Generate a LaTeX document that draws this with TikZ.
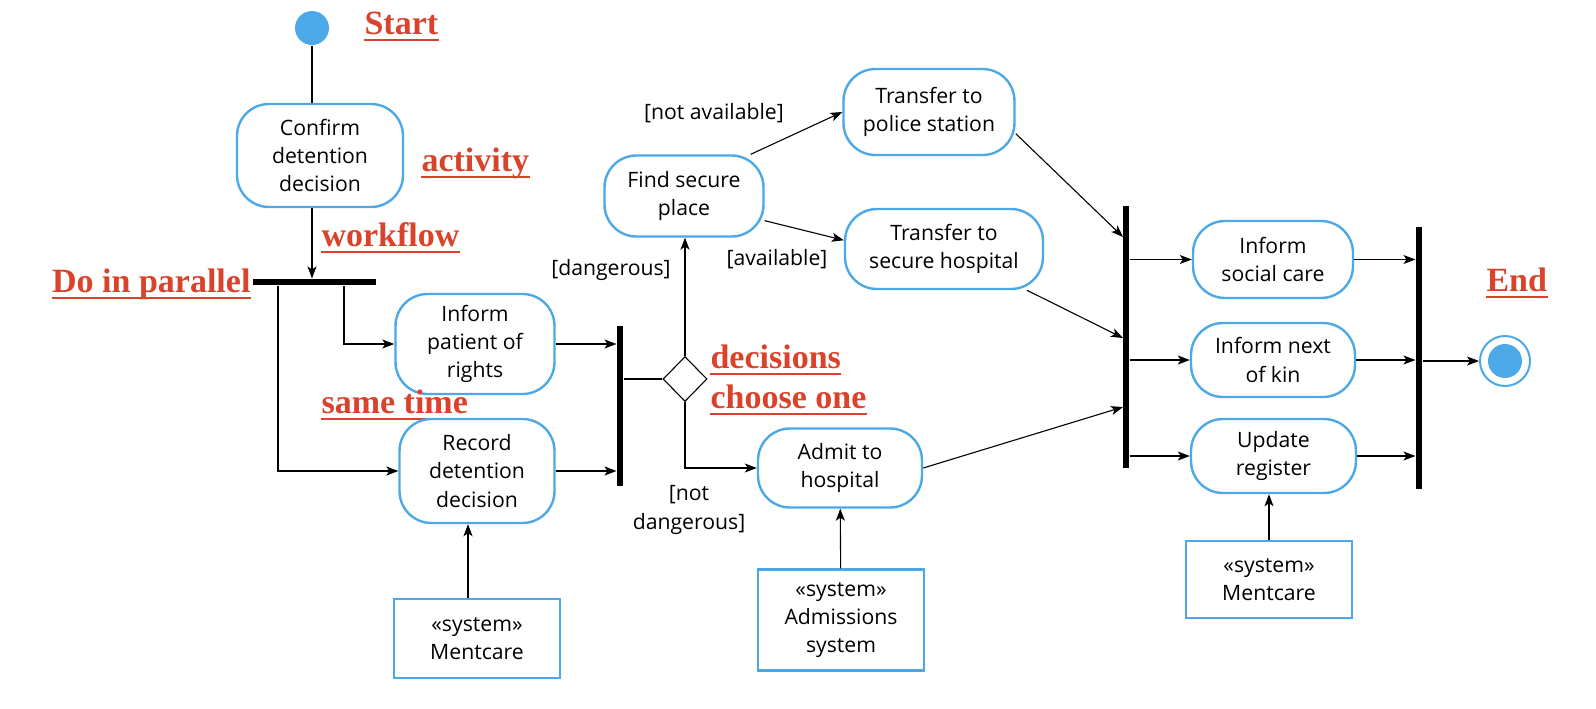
\documentclass[tikz,border=0pt]{standalone}
\usepackage{fontspec}
\setmainfont{Open Sans}
\newfontfamily\notefont{Liberation Serif}
\usetikzlibrary{arrows.meta,shapes.geometric}

\definecolor{actblue}{RGB}{76,168,230}
\definecolor{notered}{RGB}{217,67,44}

\tikzset{
  activity/.style={draw=actblue, line width=1.2pt, rounded corners=16pt, align=center, inner sep=1pt,
    font=\fontsize{10.6}{14.2}\selectfont},
  sysbox/.style={draw=actblue, line width=1.2pt, align=center, inner sep=1pt,
    font=\fontsize{10.6}{14.2}\selectfont},
  guard/.style={align=center, inner sep=0pt, font=\fontsize{10.6}{14.2}\selectfont},
  bar/.style={fill=black, inner sep=0pt},
  note/.style={text=notered, inner sep=0pt, anchor=base west,
    font=\notefont\bfseries\fontsize{17}{20}\selectfont,
    append after command={\pgfextra{\draw[notered, line width=1.4pt]
      ([yshift=-3pt]\tikzlastnode.base west) -- ([yshift=-3pt]\tikzlastnode.base east);}}},
  flow/.style={->, line width=0.55pt},
}

\begin{document}
\begin{tikzpicture}[x=0.5pt, y=-0.5pt, >={Stealth[length=6pt, width=4.5pt, inset=1.5pt]}, line width=0.55pt]
\useasboundingbox (0,0) rectangle (1596,708);

% -------- start and first activity -----------
\node[circle, fill=actblue, minimum size=17pt, inner sep=0pt] (start) at (312,28) {};
\node[note] (startnote) at (364,34) {Start};
\node[activity, minimum width=83pt, minimum height=51.5pt] (confirm) at (320,155.5) {Confirm\\detention\\decision};
\node[note] (activitynote) at (421,171) {activity};
\node[note] (workflownote) at (321,246) {workflow};
\node[bar, minimum width=61.5pt, minimum height=3pt] (fork) at (314.5,282) {};
\node[note, anchor=base east] (parallelnote) at (251,292) {Do in parallel};

% -------- parallel branch -----------
\node[activity, minimum width=79.5pt, minimum height=50pt] (inform) at (475,344) {Inform\\patient of\\rights};
\node[note] (timenote) at (321,413) {same time};
\node[activity, minimum width=77.5pt, minimum height=52pt] (record) at (477,471) {Record\\detention\\decision};
\node[sysbox, minimum width=83pt, minimum height=39.5pt] (mentcare1) at (477,638.5) {«system»\\Mentcare};
\node[bar, minimum width=3pt, minimum height=80pt] (join1) at (620,406) {};

% -------- decision -----------
\node[diamond, draw, minimum width=22pt, minimum height=22.5pt, inner sep=0pt] (choice) at (685,379) {};
\node[note] (decisionnote) at (710,368) {decisions};
\node[note] (choosenote) at (710,408) {choose one};
\node[activity, minimum width=79.5pt, minimum height=40.5pt] (find) at (684,196) {Find secure\\place};
\node[guard] (dangerous) at (611,270) {[dangerous]};
\node[activity, minimum width=85.5pt, minimum height=43pt] (police) at (929,112) {Transfer to\\police station};
\node[activity, minimum width=99pt, minimum height=40pt] (secure) at (944,249) {Transfer to\\secure hospital};
\node[guard] (notavailable) at (714,113) {[not available]};
\node[guard] (available) at (777,259) {[available]};
\node[activity, minimum width=82pt, minimum height=39.5pt] (admit) at (840,468) {Admit to\\hospital};
\node[guard] (notdangerous) at (689,510) {[not\\dangerous]};
\node[sysbox, minimum width=83pt, minimum height=50.5pt] (admissions) at (841,620) {«system»\\Admissions\\system};

% -------- final steps -----------
\node[bar, minimum width=3pt, minimum height=131pt] (join2) at (1126,337) {};
\node[activity, minimum width=80pt, minimum height=38.5pt] (social) at (1273,259.5) {Inform\\social care};
\node[activity, minimum width=82pt, minimum height=37pt] (kin) at (1273,360) {Inform next\\of kin};
\node[activity, minimum width=82.5pt, minimum height=37pt] (update) at (1273.5,456) {Update\\register};
\node[sysbox, minimum width=83pt, minimum height=38.5pt] (mentcare2) at (1269,579.5) {«system»\\Mentcare};
\node[bar, minimum width=3pt, minimum height=131pt] (join3) at (1419,358) {};
\node[note] (endnote) at (1486,291) {End};
\node[circle, draw=actblue, line width=1pt, minimum size=25pt, inner sep=0pt] (stop) at (1505,361) {};
\node[circle, fill=actblue, minimum size=17pt, inner sep=0pt] (stopdot) at (stop) {};

\coordinate (forka) at (278,282);
\coordinate (forkb) at (344,282);
\coordinate (j2a) at (1123,237);
\coordinate (j2b) at (1123,338);
\coordinate (j2c) at (1123,407);

% -------- connectors -----------
\draw (start.south) -- (start |- confirm.north);
\draw[flow] (start |- confirm.south) -- (start |- fork.north);
\draw[flow] (forkb |- fork.south) |- (inform.west);
\draw[flow] (forka |- fork.south) |- (record.west);
\draw[flow] (inform.east) -- (inform.east -| join1.west);
\draw[flow] (record.east) -- (record.east -| join1.west);
\draw[flow] ([xshift=-4.5pt]mentcare1.north) -- ([xshift=-4.5pt]record.south);
\draw (join1.east |- choice) -- (choice.west);
\draw[flow] (choice.north) -- (choice.north |- find.south);
\draw[flow] (choice.south) |- (admit.west);
\draw[flow] (admissions) -- (admit);
\draw[flow] (find.32) -- (police.west);
\draw[flow] (find.-17) -- (secure.175);
\draw[flow] (police.-14) -- (j2a);
\draw[flow] (secure) -- (j2b);
\draw[flow] (admit.east) -- (j2c);
\foreach \act in {social,kin,update} {
  \draw[flow] (\act -| join2.east) -- (\act.west);
  \draw[flow] (\act.east) -- (\act.east -| join3.west);
}
\draw[flow] (mentcare2.north) -- (mentcare2.north |- update.south);
\draw[flow] (stop -| join3.east) -- (stop.west);
\end{tikzpicture}
\end{document}
